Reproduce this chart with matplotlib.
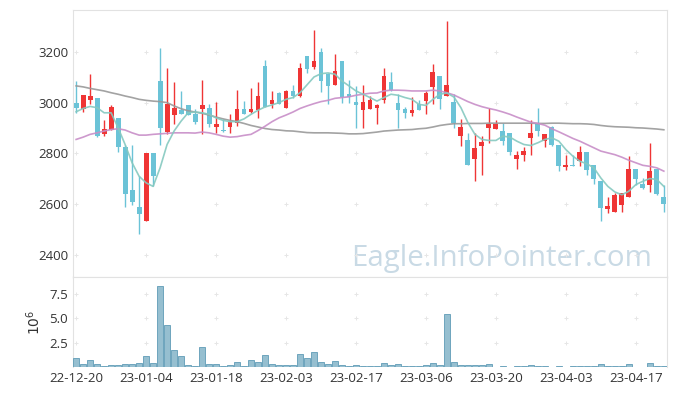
import numpy as np
import matplotlib.pyplot as plt

# price data (trading days 22-12-20 .. 23-04-21)
opens = [2997, 2973, 3009, 3017, 2875, 2894, 2940, 2827, 2657, 2587,
         2532, 2803, 3084, 2885, 2951, 2972, 2990, 2954, 2973, 2977,
         2902, 2890, 2902, 2919, 2973, 2965, 2969, 3143, 2993, 3037,
         2979, 3045, 3025, 3183, 3141, 3199, 3112, 3070, 3163, 3033,
         3002, 2971, 2976, 2979, 3009, 3083, 3000, 2976, 2958, 2993,
         3006, 3062, 3104, 3026, 3001, 2868, 2851, 2777, 2828, 2900,
         2897, 2890, 2880, 2778, 2793, 2861, 2921, 2848, 2905, 2835,
         2748, 2756, 2769, 2805, 2753, 2693, 2582, 2571, 2598, 2627,
         2740, 2681, 2674, 2740, 2627]
closes = [2977, 3029, 3025, 2868, 2898, 2981, 2824, 2641, 2607, 2562,
          2803, 2712, 2900, 2993, 2977, 2954, 2951, 2922, 2989, 2914,
          2914, 2888, 2922, 2973, 2954, 2975, 3025, 2984, 3012, 2993,
          3045, 3025, 3135, 3132, 3163, 3085, 3066, 3124, 3022, 3022,
          2991, 3001, 3012, 2989, 3104, 3050, 2971, 2959, 2972, 2971,
          3037, 3120, 3016, 3068, 2918, 2905, 2756, 2823, 2843, 2914,
          2914, 2848, 2805, 2792, 2811, 2882, 2888, 2878, 2832, 2749,
          2756, 2752, 2807, 2734, 2701, 2585, 2594, 2637, 2644, 2740,
          2701, 2664, 2732, 2641, 2602]
highs = [3085, 3030, 3112, 3017, 2933, 2989, 2940, 2835, 2835, 2710,
         2803, 2803, 3215, 3138, 3083, 3047, 2990, 2973, 3089, 2993,
         3001, 2936, 2956, 3051, 3008, 3056, 3083, 3167, 3047, 3043,
         3051, 3068, 3155, 3183, 3286, 3217, 3118, 3191, 3163, 3088,
         3067, 3068, 3027, 2996, 3138, 3122, 3033, 2983, 3022, 3009,
         3046, 3154, 3104, 3320, 3033, 2934, 2881, 2881, 2868, 2977,
         2933, 2921, 2880, 2811, 2824, 2933, 2980, 2878, 2907, 2835,
         2793, 2793, 2831, 2805, 2753, 2693, 2627, 2644, 2644, 2789,
         2740, 2703, 2842, 2740, 2674]
lows = [2960, 2965, 2996, 2866, 2868, 2894, 2806, 2589, 2598, 2482,
        2532, 2670, 2835, 2875, 2917, 2954, 2951, 2914, 2877, 2904,
        2881, 2886, 2880, 2906, 2954, 2960, 2940, 2984, 2980, 2993,
        2979, 3020, 3022, 3118, 3132, 3043, 2993, 3070, 3000, 3000,
        2901, 2901, 2976, 2914, 3000, 3046, 2901, 2940, 2947, 2971,
        2956, 2993, 2976, 3026, 2901, 2828, 2756, 2693, 2716, 2842,
        2897, 2835, 2795, 2740, 2769, 2795, 2868, 2824, 2828, 2732,
        2736, 2752, 2749, 2716, 2680, 2532, 2565, 2571, 2569, 2627,
        2677, 2661, 2648, 2635, 2571]

ma5 = [2964, 2977, 2985, 2980, 2960, 2960, 2901, 2835, 2763, 2710,
       2684, 2670, 2743, 2835, 2888, 2927, 2960, 2963, 2960, 2954,
       2940, 2930, 2925, 2925, 2936, 2954, 2970, 2983, 2991, 3000,
       3013, 3020, 3039, 3070, 3101, 3114, 3117, 3112, 3085, 3066,
       3046, 3033, 3020, 3006, 3020, 3033, 3029, 3020, 3013, 2993,
       2989, 3013, 3033, 3038, 3022, 2980, 2921, 2875, 2855, 2851,
       2851, 2868, 2864, 2848, 2835, 2831, 2842, 2855, 2861, 2848,
       2815, 2789, 2769, 2759, 2743, 2703, 2670, 2648, 2637, 2651,
       2677, 2690, 2701, 2697, 2670]
ma20 = [2855, 2864, 2875, 2881, 2888, 2894, 2897, 2892, 2881, 2872,
        2872, 2875, 2877, 2879, 2881, 2881, 2881, 2880, 2884, 2881,
        2875, 2868, 2864, 2866, 2871, 2875, 2890, 2907, 2925, 2940,
        2951, 2963, 2977, 2987, 2996, 3004, 3009, 3017, 3020, 3023,
        3029, 3033, 3037, 3038, 3046, 3049, 3049, 3048, 3046, 3046,
        3046, 3049, 3046, 3039, 3030, 3017, 3004, 2993, 2984, 2977,
        2971, 2963, 2954, 2943, 2933, 2923, 2918, 2911, 2897, 2885,
        2872, 2859, 2848, 2835, 2822, 2809, 2802, 2795, 2785, 2773,
        2763, 2753, 2749, 2743, 2730]
ma60 = [3066, 3062, 3056, 3051, 3046, 3039, 3033, 3026, 3020, 3013,
        3009, 3006, 3004, 3000, 2987, 2976, 2968, 2963, 2958, 2951,
        2943, 2936, 2930, 2925, 2918, 2910, 2904, 2898, 2894, 2892,
        2889, 2888, 2885, 2882, 2881, 2881, 2881, 2880, 2879, 2877,
        2877, 2878, 2881, 2884, 2888, 2890, 2892, 2893, 2894, 2897,
        2899, 2904, 2910, 2914, 2917, 2917, 2918, 2918, 2918, 2919,
        2919, 2919, 2919, 2919, 2919, 2919, 2918, 2918, 2919, 2919,
        2918, 2917, 2917, 2916, 2914, 2910, 2907, 2905, 2904, 2903,
        2901, 2900, 2898, 2896, 2893]

# volume in millions
volume = [0.89, 0.27, 0.68, 0.27, 0.07, 0.17, 0.17, 0.27, 0.27, 0.38,
          1.10, 0.38, 8.29, 4.28, 1.71, 1.10, 0.17, 0.07, 2.02, 0.27,
          0.27, 0.07, 0.17, 0.48, 0.07, 0.68, 0.48, 1.20, 0.27, 0.17,
          0.17, 0.17, 1.30, 0.89, 1.50, 0.48, 0.27, 0.58, 0.17, 0.07,
          0.17, 0.07, 0.07, 0.07, 0.38, 0.17, 0.27, 0.07, 0.07, 0.07,
          0.17, 0.38, 0.17, 5.41, 0.48, 0.17, 0.17, 0.17, 0.17, 0.27,
          0.02, 0.07, 0.02, 0.07, 0.07, 0.17, 0.07, 0.07, 0.02, 0.07,
          0.02, 0.07, 0.07, 0.07, 0.07, 0.27, 0.07, 0.07, 0.07, 0.27,
          0.02, 0.02, 0.38, 0.07, 0.07]

tick_pos = [0, 10, 20, 30, 40, 50, 60, 70, 80]
tick_labels = ['22-12-20', '23-01-04', '23-01-18', '23-02-03', '23-02-17',
               '23-03-06', '23-03-20', '23-04-03', '23-04-17']

plt.rcParams['font.family'] = ['Open Sans', 'DejaVu Sans']
plt.rcParams['font.size'] = 9

red = '#ef3535'
blue = '#6bc3d7'
grid_c = '#e2e2e2'

o = np.array(opens)
c = np.array(closes)
h = np.array(highs)
l = np.array(lows)
x = np.arange(len(o))
up = c >= o
cols = np.where(up, red, blue)

fig = plt.figure(figsize=(6.77, 3.96), dpi=100)
ax = fig.add_axes([0.1078, 0.3005, 0.8774, 0.6743])
ax2 = fig.add_axes([0.1078, 0.0732, 0.8774, 0.2273], sharex=ax)

ax.text(0.975, 0.041, 'Eagle.InfoPointer.com', transform=ax.transAxes,
        ha='right', va='baseline', fontsize=21.2, color='#c9dae5', zorder=0)

ax.vlines(x, l, h, colors=cols, linewidth=1, zorder=2)
body = np.abs(c - o)
body = np.where(body < 3, 3, body)
ax.bar(x, body, bottom=np.minimum(o, c), width=0.7, color=cols, zorder=3)

ax.plot(x, ma60, color='#999999', lw=1.2, alpha=0.9, zorder=4)
ax.plot(x, ma20, color='#c88ec8', lw=1.2, alpha=0.9, zorder=4)
ax.plot(x, ma5, color='#85c9c0', lw=1.2, alpha=0.9, zorder=4)

ax.set_xlim(-0.45, 84.45)
ax.set_ylim(2313, 3365)
ax.set_yticks([2400, 2600, 2800, 3000, 3200])

ax2.bar(x, volume, width=0.95, color='#96bfd0', edgecolor='#5f9cb6', linewidth=0.6, zorder=3)
ax2.set_ylim(0, 9.2)
ax2.set_yticks([2.5, 5.0, 7.5])
ax2.set_ylabel('$10^6$', color='#333333', fontsize=10, labelpad=4)
ax2.set_xticks(tick_pos)
ax2.set_xticklabels(tick_labels)

# grid crosses at tick intersections
gx, gy = np.meshgrid(tick_pos, [2400, 2600, 2800, 3000, 3200])
ax.scatter(gx.ravel(), gy.ravel(), marker='+', s=9, color='#e6e6e6', linewidths=0.7, zorder=1)
gx, gy = np.meshgrid(tick_pos, [2.5, 5.0, 7.5])
ax2.scatter(gx.ravel(), gy.ravel(), marker='+', s=9, color='#e6e6e6', linewidths=0.7, zorder=1)

for a in (ax, ax2):
    for s in a.spines.values():
        s.set_color(grid_c)
    a.tick_params(length=0, colors='#333333', labelsize=9.5)
ax2.spines['bottom'].set_visible(False)
ax.tick_params(labelbottom=False)
ax.set_facecolor('none')

fig.savefig('out.png', dpi=100)
